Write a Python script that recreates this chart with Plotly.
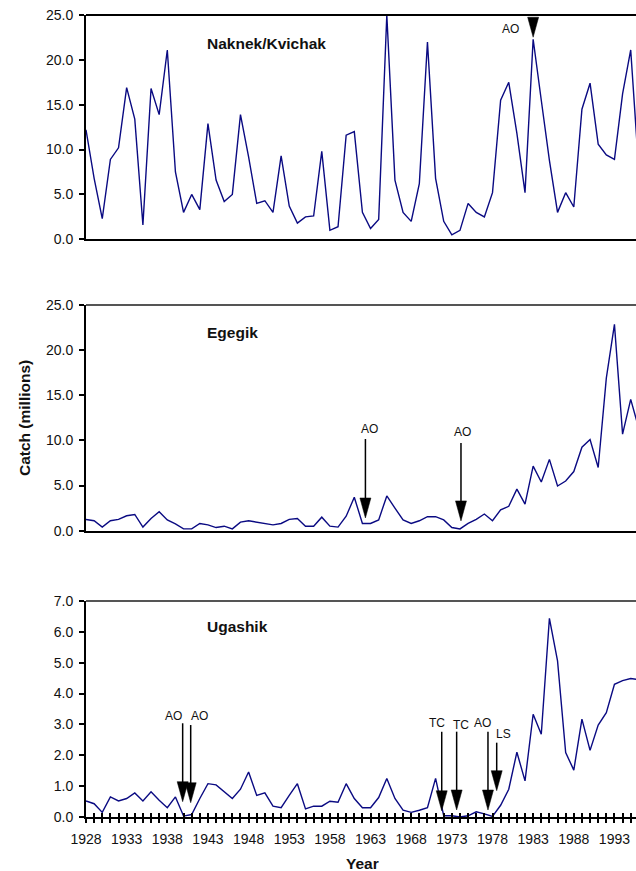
import plotly.graph_objects as go

# ---------------- data ----------------
years = list(range(1928, 1997))

naknek = [12.2, 6.8, 2.3, 8.9, 10.2, 16.9, 13.4, 1.6, 16.8, 13.9,
          21.1, 7.5, 3.0, 5.0, 3.3, 12.9, 6.6, 4.2, 5.0, 13.9,
          9.2, 4.0, 4.3, 3.0, 9.3, 3.7, 1.8, 2.5, 2.6, 9.8,
          1.0, 1.4, 11.6, 12.0, 3.0, 1.2, 2.2, 25.0, 6.6, 3.0,
          2.0, 6.2, 22.0, 6.8, 2.0, 0.5, 1.0, 4.0, 3.0, 2.5,
          5.2, 15.5, 17.5, 11.8, 5.2, 22.3, 15.5, 8.8, 3.0, 5.2,
          3.6, 14.5, 17.4, 10.6, 9.4, 8.9, 16.2, 21.1, 7.6]

egegik = [1.25, 1.1, 0.4, 1.1, 1.25, 1.65, 1.8, 0.4, 1.35, 2.1,
          1.2, 0.75, 0.2, 0.2, 0.8, 0.65, 0.35, 0.5, 0.2, 0.95,
          1.1, 0.95, 0.8, 0.65, 0.8, 1.25, 1.35, 0.5, 0.5, 1.5,
          0.5, 0.4, 1.6, 3.7, 0.8, 0.8, 1.2, 3.85, 2.5, 1.2,
          0.8, 1.1, 1.55, 1.55, 1.2, 0.35, 0.2, 0.8, 1.25, 1.85,
          1.1, 2.3, 2.7, 4.6, 2.95, 7.15, 5.4, 7.9, 4.95, 5.5,
          6.55, 9.25, 10.1, 7.0, 16.9, 22.85, 10.7, 14.55, 11.3]

ugashik = [0.52, 0.43, 0.15, 0.65, 0.52, 0.6, 0.78, 0.52, 0.82, 0.54,
           0.3, 0.65, 0.03, 0.08, 0.6, 1.08, 1.04, 0.82, 0.6, 0.9,
           1.46, 0.7, 0.78, 0.35, 0.3, 0.7, 1.08, 0.26, 0.35, 0.35,
           0.51, 0.48, 1.08, 0.6, 0.3, 0.3, 0.63, 1.25, 0.6, 0.22,
           0.15, 0.22, 0.3, 1.25, 0.04, 0.04, 0.0, 0.04, 0.17, 0.1,
           0.02, 0.38, 0.9, 2.1, 1.17, 3.33, 2.68, 6.44, 5.06, 2.09,
           1.52, 3.17, 2.16, 2.98, 3.38, 4.3, 4.42, 4.49, 4.45]

panel_names = ["Naknek/Kvichak", "Egegik", "Ugashik"]
y_max = [25.0, 25.0, 7.0]
y_dtick = [5.0, 5.0, 1.0]

# event markers: (year, label)
events1_years = [1983]
events1_labels = ["AO"]
events2_years = [1962, 1974]
events2_labels = ["AO", "AO"]
events3_years = [1940, 1941, 1972, 1973, 1977, 1978]
events3_labels = ["AO", "AO", "TC", "TC", "AO", "LS"]

x_tick_years = list(range(1928, 1997))
x_tick_text = [str(y) if (y - 1928) % 5 == 0 else "" for y in x_tick_years]

# ---------------- styling / geometry ----------------
W, H = 636, 871
LEFT = 86
X_END = 1928 + (W - LEFT) / 8.13
# pixel rows of each panel (top, bottom)
panel_px = [(15.0, 239.3), (305.0, 530.7), (601.0, 817.0)]
LINE_COLOR = "#0a0a82"
FONT = "Liberation Sans, Arial, sans-serif"
TICK_SIZE = 14

# per-event pixel styling: xshift, gap above point, shaft length, label dx, label dy
style1 = [(0.0, 2.0, 0.0, -23.0, 10.5)]
style2 = [(3.0, 5.5, 79.0, 6.9, 94.8), (1.0, 8.0, 78.0, 2.3, 97.2)]
style3 = [(-0.9, 14.4, 78.4, -10.3, 100.4), (-1.0, 11.8, 77.7, 8.3, 98.8),
          (-2.0, 5.0, 79.0, -7.0, 92.5), (4.8, 5.8, 78.3, 9.1, 90.8),
          (3.6, 3.9, 78.3, -1.7, 90.6), (4.2, 25.7, 48.0, 11.2, 82.1)]
HEAD_W, HEAD_H = 11.0, 20.0

series = [naknek, egegik, ugashik]
events = [(events1_years, events1_labels, style1),
          (events2_years, events2_labels, style2),
          (events3_years, events3_labels, style3)]

fig = go.Figure()
layout = dict(
    width=W, height=H,
    margin=dict(l=0, r=0, t=0, b=0, autoexpand=False),
    paper_bgcolor="white", plot_bgcolor="white",
    showlegend=False,
    font=dict(family=FONT, color="#111"),
)
shapes = []
annotations = []

for i in range(3):
    n = "" if i == 0 else str(i + 1)
    xa, ya = "x" + n, "y" + n
    top, bot = panel_px[i]
    fig.add_trace(go.Scatter(x=years, y=series[i], mode="lines",
                             line=dict(color=LINE_COLOR, width=1.4),
                             xaxis=xa, yaxis=ya, hoverinfo="skip"))
    xaxis = dict(domain=[LEFT / W, 1.0], range=[1928, X_END], anchor=ya,
                 showgrid=False, zeroline=False, showline=True, automargin=False,
                 linecolor="black", linewidth=2, fixedrange=True)
    if i < 2:
        xaxis.update(showticklabels=False, ticks="")
    else:
        xaxis.update(tickmode="array", tickvals=x_tick_years, ticktext=x_tick_text,
                     ticks="outside", ticklen=4, tickwidth=1.5, tickcolor="black",
                     tickfont=dict(size=TICK_SIZE, color="#111"), ticklabelstandoff=4)
    yaxis = dict(domain=[1 - bot / H, 1 - top / H], range=[0, y_max[i]], anchor=xa,
                 dtick=y_dtick[i], tick0=0, tickformat=".1f", automargin=False,
                 showgrid=False, zeroline=False, showline=True,
                 linecolor="black", linewidth=2,
                 ticks="outside", ticklen=5, tickwidth=1.5, tickcolor="black",
                 ticklabelstandoff=3,
                 tickfont=dict(size=TICK_SIZE, color="#111"), fixedrange=True)
    layout["xaxis" + n] = xaxis
    layout["yaxis" + n] = yaxis

    # top border line
    shapes.append(dict(type="line", xref=xa + " domain", yref=ya + " domain",
                       x0=0, x1=1, y0=1, y1=1,
                       line=dict(color="black" if i == 0 else "#555555", width=2)))
    # panel title
    annotations.append(dict(text="<b>%s</b>" % panel_names[i], showarrow=False,
                            xref="paper", yref="paper",
                            x=205 / W, y=1 - [43.0, 332.7, 626.7][i] / H,
                            xanchor="left", yanchor="middle",
                            font=dict(size=15.5, color="#111")))
    # events
    ev_years, ev_labels, ev_style = events[i]
    for yr, lab, (dx, gap, length, ldx, ldy) in zip(ev_years, ev_labels, ev_style):
        val = series[i][years.index(yr)]
        common = dict(xref=xa, yref=ya, xsizemode="pixel", ysizemode="pixel",
                      xanchor=yr, yanchor=val)
        shapes.append(dict(type="path", **common,
                           path="M %f,%f L %f,%f L %f,%f Z" % (
                               dx - HEAD_W / 2, gap + HEAD_H,
                               dx + HEAD_W / 2, gap + HEAD_H,
                               dx, gap),
                           fillcolor="black", line=dict(color="black", width=0.5)))
        if length > 0:
            shapes.append(dict(type="path", **common,
                               path="M %f,%f L %f,%f" % (dx, gap + length, dx, gap + HEAD_H - 1),
                               line=dict(color="black", width=1.5)))
        annotations.append(dict(text=lab, showarrow=False, xref=xa, yref=ya,
                                x=yr, y=val, xshift=ldx, yshift=ldy,
                                xanchor="center", yanchor="middle",
                                font=dict(size=12, color="#111")))

# overlay axis for ticks crossing the bottom axis of the last panel
layout["xaxis4"] = dict(domain=[LEFT / W, 1.0], range=[1928, X_END], anchor="y3",
                        overlaying="x3", tickmode="array", tickvals=x_tick_years,
                        ticks="inside", ticklen=4, tickwidth=1.5, tickcolor="black",
                        showticklabels=False, showgrid=False, zeroline=False,
                        showline=False, fixedrange=True, automargin=False)
fig.add_trace(go.Scatter(x=[1928], y=[0], mode="markers", marker=dict(opacity=0),
                         xaxis="x4", yaxis="y3", hoverinfo="skip"))

# axis titles
annotations.append(dict(text="<b>Catch (millions)</b>", showarrow=False,
                        xref="paper", yref="paper", x=24 / W, y=1 - 418 / H,
                        textangle=-90, xanchor="center", yanchor="middle",
                        font=dict(size=15.5, color="#111")))
annotations.append(dict(text="<b>Year</b>", showarrow=False,
                        xref="paper", yref="paper", x=362 / W, y=1 - 863 / H,
                        xanchor="center", yanchor="middle",
                        font=dict(size=15.5, color="#111")))

layout["shapes"] = shapes
layout["annotations"] = annotations
fig.update_layout(**layout)
fig.write_html("out.html", config={"displayModeBar": False})
